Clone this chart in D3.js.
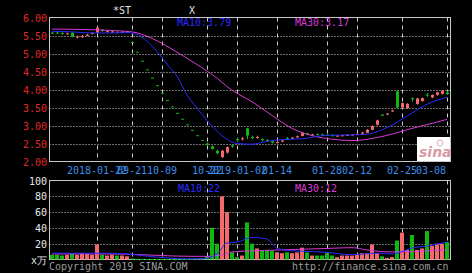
<!DOCTYPE html>
<html lang="en">
<head>
<meta charset="utf-8">
<title>K</title>
<script src="https://cdn.jsdelivr.net/npm/d3@7"></script>
<style>
  body { margin:0; background:#000; }
  text { font-family:"DejaVu Sans Mono", monospace; font-size:10px; }
</style>
</head>
<body>
<svg id="chart" width="472" height="273"></svg>
<script>
// x axis ticks (candle index -> date label)
var tickIdx    = [9, 16, 22, 31, 37, 45, 55, 61, 70, 79];
var tickLabels = ["2018-01-22","09-21","10-09","10-22","2019-01-02","01-14","01-28","02-12","02-25","03-08"];

// daily candles
var opens  = [5.58,5.58,5.57,5.55,5.58,5.45,5.46,5.50,5.55,5.58, 5.66,5.61,5.60,5.60,5.59,5.60,5.32,5.05,4.80,4.56,
              4.33,4.12,3.91,3.71,3.53,3.35,3.19,3.03,2.88,2.73, 2.60,2.50,2.42,2.30,2.12,2.25,2.45,2.62,2.62,2.92,
              2.68,2.66,2.62,2.60,2.56,2.51,2.55,2.65,2.64,2.67, 2.71,2.78,2.74,2.76,2.75,2.74,2.73,2.70,2.71,2.72,
              2.73,2.74,2.77,2.80,2.88,3.02,3.30,3.30,3.40,3.95, 3.50,3.48,3.76,3.60,3.68,3.86,3.78,3.85,3.88,3.92];
var highs  = [5.60,5.60,5.59,5.58,5.59,5.50,5.52,5.55,5.59,5.74, 5.68,5.64,5.63,5.62,5.62,5.62,5.32,5.05,4.80,4.56,
              4.33,4.12,3.91,3.71,3.53,3.35,3.19,3.03,2.88,2.73, 2.60,2.52,2.44,2.32,2.32,2.42,2.48,2.66,2.68,2.94,
              2.72,2.72,2.64,2.62,2.58,2.56,2.60,2.68,2.68,2.72, 2.82,2.80,2.77,2.78,2.77,2.76,2.75,2.73,2.74,2.75,
              2.76,2.78,2.82,2.90,3.00,3.16,3.32,3.34,3.44,3.98, 3.64,3.62,3.78,3.76,3.78,3.90,3.86,3.93,3.98,3.96];
var lows   = [5.55,5.54,5.53,5.53,5.45,5.42,5.43,5.48,5.53,5.56, 5.60,5.59,5.58,5.57,5.57,5.58,5.32,5.05,4.80,4.56,
              4.33,4.12,3.91,3.71,3.53,3.35,3.19,3.03,2.88,2.73, 2.60,2.44,2.33,2.20,2.10,2.22,2.38,2.56,2.58,2.62,
              2.62,2.64,2.56,2.55,2.50,2.50,2.54,2.60,2.62,2.66, 2.70,2.74,2.72,2.73,2.72,2.71,2.70,2.69,2.70,2.71,
              2.72,2.73,2.76,2.79,2.87,3.00,3.28,3.29,3.38,3.48, 3.48,3.46,3.66,3.58,3.66,3.80,3.76,3.83,3.86,3.85];
var closes = [5.57,5.56,5.55,5.56,5.46,5.47,5.48,5.52,5.57,5.72, 5.64,5.62,5.61,5.59,5.60,5.60,5.32,5.05,4.80,4.56,
              4.33,4.12,3.91,3.71,3.53,3.35,3.19,3.03,2.88,2.73, 2.60,2.47,2.35,2.23,2.30,2.40,2.42,2.60,2.64,2.72,
              2.66,2.68,2.60,2.58,2.52,2.54,2.58,2.64,2.66,2.70, 2.80,2.76,2.75,2.74,2.73,2.72,2.71,2.72,2.73,2.74,
              2.75,2.77,2.80,2.88,2.98,3.14,3.29,3.33,3.42,3.50, 3.62,3.60,3.75,3.75,3.76,3.85,3.85,3.92,3.97,3.87];
// volume, 万
var volumes = [6,6,5,6,7,6,8,7,6,19, 6,5,6,5,5,4,1.2,0.8,0.6,0.5,
               0.6,0.5,0.7,0.6,0.5,0.6,0.8,0.7,0.9,1.2, 1.5,4,40,20,80,60,9,3,5,47,
               20,14,11,12,11,9,8,9,8,9, 15,9,5,5,5,8,5,3,5,5,
               5,7,8,8,19,8,4,2,3,24, 34,12,31,12,14,36,17,20,20,22];

// moving average lines (index, value)
var ma10Idx = [0,4,8,12,15,17,19,21,23,25,27,29,31,33,35,37,40,43,46,50,55,60,63,66,69,72,75,77,79];
var ma10Val = [5.62,5.60,5.57,5.57,5.58,5.53,5.34,5.06,4.70,4.37,3.85,3.48,3.14,2.84,2.62,2.50,2.48,2.56,2.61,2.63,2.73,2.74,2.76,2.88,3.09,3.35,3.59,3.70,3.79];
var ma30Idx = [0,8,16,20,24,28,32,36,40,44,48,52,56,60,64,68,72,76,79];
var ma30Val = [5.68,5.66,5.60,5.42,5.12,4.78,4.42,3.98,3.66,3.28,2.92,2.72,2.62,2.58,2.64,2.76,2.92,3.06,3.17];
var volMa10Idx = [0,5,10,15,18,21,24,27,30,33,35,37,40,43,45,48,50,55,60,65,68,70,72,75,79];
var volMa10Val = [8,8,8,7,5,3,1.5,0.8,0.9,7,21,22,28,26,14,11,10.5,9,6,8,7,10,14.5,17,22];
var volMa30Idx = [0,10,16,22,28,31,34,36,40,45,50,55,60,63,66,70,75,79];
var volMa30Val = [7,7,6.5,5,4,4,6,9.5,11,12,13,14,15,12,10,9.5,11,12.4];

var priceTicks = [2.00,2.50,3.00,3.50,4.00,4.50,5.00,5.50,6.00];
var volTicks = [20,40,60,80,100];

var svg = d3.select("#chart");
svg.append("rect").attr("width",472).attr("height",273).attr("fill","#000");

var L = 49.5, R = 450.5;
var x = d3.scaleLinear().domain([0, 79]).range([52, 447]);
var y = d3.scaleLinear().domain([2, 6]).range([161.5, 17.5]);
var yv = d3.scaleLinear().domain([0, 100]).range([259.5, 180.5]);

var RED = "#f46a6a", GREEN = "#10b810", BLUE = "#2a2aff", MAG = "#d63ad6";

function isUp(i) {
  if (closes[i] > opens[i]) return true;
  if (closes[i] < opens[i]) return false;
  return i > 0 ? closes[i] >= closes[i-1] : true;
}

// title glyphs
svg.append("text").attr("x",113).attr("y",14).attr("fill","#e0e0e0").text("*ST");
svg.append("text").attr("x",189).attr("y",14).attr("fill","#e0e0e0").text("X");

// grid lines
function grid(yScale, ticks, top, bottom) {
  svg.selectAll(null).data(ticks).enter().append("line")
    .attr("x1",L).attr("x2",R)
    .attr("y1",function(d){return Math.round(yScale(d))+0.5;})
    .attr("y2",function(d){return Math.round(yScale(d))+0.5;})
    .attr("stroke","#d8d8d8").attr("stroke-dasharray","1,2");
  svg.selectAll(null).data(tickIdx).enter().append("line")
    .attr("x1",function(d){return Math.round(x(d))+0.5;})
    .attr("x2",function(d){return Math.round(x(d))+0.5;})
    .attr("y1",top).attr("y2",bottom)
    .attr("stroke","#d0d0d0").attr("stroke-dasharray","4,4");
}
grid(y, priceTicks.slice(1,-1), 17.5, 161.5);
grid(yv, volTicks.slice(0,-1), 180.5, 259.5);

// frames
svg.append("rect").attr("x",L).attr("y",17.5).attr("width",R-L).attr("height",144)
  .attr("fill","none").attr("stroke","#c8c8c8");
svg.append("rect").attr("x",L).attr("y",180.5).attr("width",R-L).attr("height",79)
  .attr("fill","none").attr("stroke","#c8c8c8");

// axis labels
svg.selectAll(null).data(priceTicks).enter().append("text")
  .attr("x",47).attr("y",function(d){return y(d)+4;})
  .attr("text-anchor","end").attr("fill","#e02828")
  .text(function(d){return d.toFixed(2);});
svg.selectAll(null).data(volTicks).enter().append("text")
  .attr("x",47).attr("y",function(d){return yv(d)+4;})
  .attr("text-anchor","end").attr("fill","#e8e8e8")
  .text(function(d){return d;});
svg.append("text").attr("x",31).attr("y",264).attr("fill","#e8e8e8").text("x万");

svg.selectAll(null).data(tickIdx).enter().append("text")
  .attr("x",function(d,i){ return i === tickIdx.length-1 ? 446 : x(d); })
  .attr("y",174)
  .attr("text-anchor",function(d,i){ return i === tickIdx.length-1 ? "end" : "middle"; })
  .attr("fill","#3c8ee8")
  .text(function(d,i){return tickLabels[i];});

// MA legends
svg.append("text").attr("x",177).attr("y",26).attr("fill",BLUE).text("MA10:" + ma10Val[ma10Val.length-1].toFixed(2));
svg.append("text").attr("x",295).attr("y",26).attr("fill",MAG).text("MA30:" + ma30Val[ma30Val.length-1].toFixed(2));
svg.append("text").attr("x",178).attr("y",192).attr("fill",BLUE).text("MA10:" + Math.round(volMa10Val[volMa10Val.length-1]));
svg.append("text").attr("x",295).attr("y",192).attr("fill",MAG).text("MA30:" + Math.round(volMa30Val[volMa30Val.length-1]));

// sina logo
svg.append("rect").attr("x",417).attr("y",137).attr("width",33).attr("height",24).attr("fill","#ffffff");
svg.append("text").attr("x",419).attr("y",157).attr("fill","#d89aa4")
  .style("font-family","DejaVu Sans").style("font-size","14px").style("font-style","italic").style("font-weight","bold")
  .text("sina");
svg.append("circle").attr("cx",440).attr("cy",143).attr("r",3).attr("fill","none").attr("stroke","#e0b0b8");

var idx = d3.range(closes.length);

// volume bars
svg.selectAll(null).data(idx).enter().append("rect")
  .attr("x",function(i){return Math.round(x(i))-2;})
  .attr("width",4)
  .attr("y",function(i){return Math.min(yv(volumes[i]), 259);})
  .attr("height",function(i){return Math.max(259.5 - yv(volumes[i]), 1);})
  .attr("fill",function(i){return isUp(i) ? RED : GREEN;});

// candles
var candle = svg.selectAll(null).data(idx).enter().append("g");
candle.append("line")
  .attr("x1",function(i){return Math.round(x(i))+0.5;})
  .attr("x2",function(i){return Math.round(x(i))+0.5;})
  .attr("y1",function(i){return y(highs[i]);})
  .attr("y2",function(i){return y(lows[i]);})
  .attr("stroke",function(i){return isUp(i) ? RED : GREEN;});
candle.append("rect")
  .attr("x",function(i){return Math.round(x(i))-1;})
  .attr("width",3)
  .attr("y",function(i){return Math.min(y(opens[i]), y(closes[i]));})
  .attr("height",function(i){return Math.max(Math.abs(y(opens[i]) - y(closes[i])), 1);})
  .attr("fill",function(i){return isUp(i) ? RED : GREEN;});

// MA lines
function maLine(xs, vs, yScale, color) {
  var pts = xs.map(function(d,i){return [x(d), yScale(vs[i])];});
  svg.append("path").datum(pts)
    .attr("d", d3.line().curve(d3.curveMonotoneX))
    .attr("fill","none").attr("stroke",color).attr("stroke-width",1);
}
maLine(ma30Idx, ma30Val, y, MAG);
maLine(ma10Idx, ma10Val, y, BLUE);
maLine(volMa30Idx, volMa30Val, yv, MAG);
maLine(volMa10Idx, volMa10Val, yv, BLUE);

// footer
svg.append("text").attr("x",49).attr("y",270).attr("fill","#9a9a9a").text("Copyright 2019 SINA.COM");
svg.append("text").attr("x",292).attr("y",270).attr("fill","#9a9a9a").text("http://finance.sina.com.cn");
</script>
</body>
</html>
